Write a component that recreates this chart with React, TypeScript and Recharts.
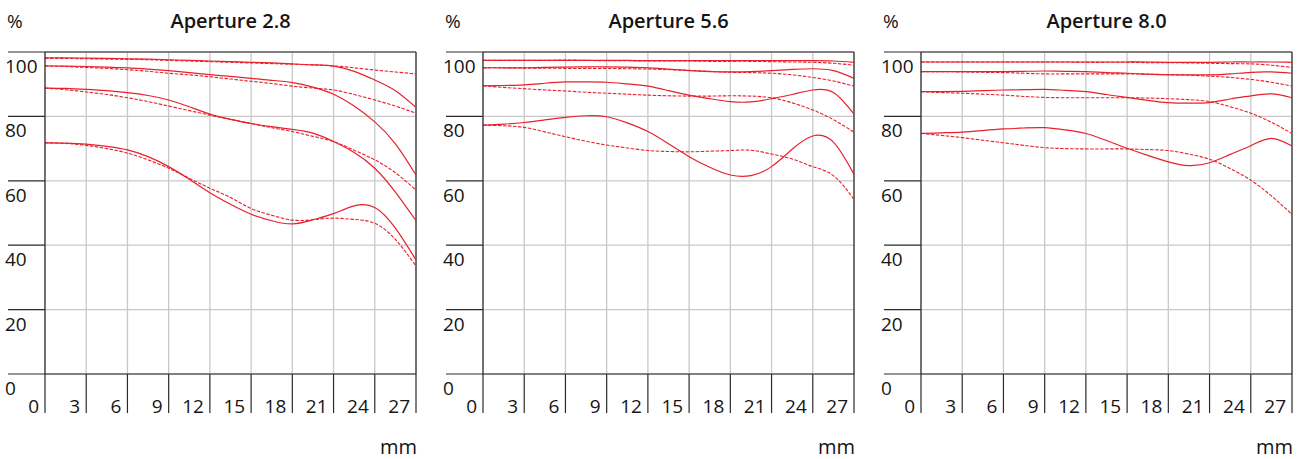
import React from 'react';
import { LineChart, Line, XAxis, YAxis, CartesianGrid, ReferenceLine } from 'recharts';

// image height in mm, sampled every 1.5 mm
const X_MM = [0, 1.5, 3, 4.5, 6, 7.5, 9, 10.5, 12, 13.5, 15, 16.5, 18, 19.5, 21, 22.5, 24, 25.5, 27];
const X_TICKS = [0, 3, 6, 9, 12, 15, 18, 21, 24, 27];
const Y_TICKS = [0, 20, 40, 60, 80, 100];

// Aperture 2.8 — solid = sagittal, dashed = tangential (5/10/20/40 lp/mm)
const f28Sag5 = [98.2, 98.2, 98.1, 98.0, 97.9, 97.8, 97.6, 97.4, 97.2, 97.0, 96.8, 96.6, 96.3, 96.0, 95.6, 94.0, 91.3, 88.0, 82.8];
const f28Tan5 = [98.0, 98.0, 97.9, 97.8, 97.7, 97.6, 97.4, 97.2, 97.0, 96.8, 96.6, 96.4, 96.2, 96.0, 95.7, 95.1, 94.4, 93.8, 93.2];
const f28Sag10 = [95.7, 95.6, 95.5, 95.3, 95.1, 94.7, 94.2, 93.6, 93.0, 92.4, 91.8, 91.2, 90.5, 89.1, 86.9, 83.2, 78.3, 71.5, 61.8];
const f28Tan10 = [95.7, 95.5, 95.2, 94.9, 94.5, 94.0, 93.4, 92.9, 92.3, 91.6, 90.9, 90.2, 89.4, 88.8, 88.2, 86.8, 85.1, 83.2, 81.0];
const f28Sag20 = [88.8, 88.7, 88.4, 88.0, 87.4, 86.5, 85.1, 83.0, 80.7, 79.1, 77.8, 76.8, 76.0, 74.8, 72.2, 68.8, 63.9, 56.5, 47.6];
const f28Tan20 = [88.8, 88.3, 87.6, 86.8, 85.8, 84.6, 83.2, 81.8, 80.4, 79.1, 77.8, 76.5, 75.3, 73.8, 72.2, 69.5, 66.5, 62.5, 57.1];
const f28Sag40 = [71.8, 71.7, 71.4, 70.7, 69.6, 67.5, 64.4, 60.5, 56.3, 52.7, 49.6, 47.6, 46.6, 47.9, 49.8, 52.2, 51.7, 45.3, 35.4];
const f28Tan40 = [71.8, 71.6, 71.0, 70.0, 68.6, 66.5, 63.9, 60.8, 57.7, 54.8, 51.4, 49.3, 47.8, 47.9, 48.4, 48.0, 46.8, 41.8, 33.5];

// Aperture 5.6
const f56Sag5 = [97.4, 97.4, 97.4, 97.4, 97.4, 97.4, 97.4, 97.4, 97.3, 97.3, 97.3, 97.3, 97.3, 97.3, 97.3, 97.3, 97.3, 97.2, 96.8];
const f56Tan5 = [97.4, 97.4, 97.4, 97.4, 97.5, 97.4, 97.3, 97.3, 97.2, 97.2, 97.2, 97.1, 97.1, 97.1, 97.0, 96.9, 96.8, 96.5, 95.9];
const f56Sag10 = [95.1, 95.1, 95.1, 95.2, 95.3, 95.4, 95.4, 95.3, 95.1, 94.7, 94.2, 93.9, 93.8, 93.9, 94.2, 94.6, 94.8, 94.2, 91.8];
const f56Tan10 = [95.1, 95.1, 95.0, 95.0, 94.9, 94.9, 94.9, 94.8, 94.7, 94.5, 94.3, 94.0, 93.7, 93.6, 93.4, 92.9, 92.1, 91.0, 89.4];
const f56Sag20 = [89.5, 89.6, 89.8, 90.3, 90.7, 90.7, 90.6, 90.1, 89.4, 88.0, 86.6, 85.5, 84.6, 84.5, 85.5, 86.8, 88.2, 87.4, 80.7];
const f56Tan20 = [89.5, 89.0, 88.6, 88.2, 87.9, 87.5, 87.2, 86.9, 86.6, 86.4, 86.3, 86.3, 86.4, 86.3, 85.8, 84.2, 82.0, 79.0, 75.1];
const f56Sag40 = [77.3, 77.6, 78.1, 78.9, 79.7, 80.2, 79.9, 78.0, 75.3, 71.5, 67.5, 64.2, 61.8, 61.6, 64.4, 69.8, 73.9, 72.0, 62.0];
const f56Tan40 = [77.3, 77.1, 76.6, 75.2, 73.7, 72.3, 71.1, 70.2, 69.4, 69.1, 69.0, 69.2, 69.4, 69.5, 68.3, 66.8, 64.4, 61.6, 54.2];

// Aperture 8.0
const f80Sag5 = [96.9, 96.9, 96.9, 96.9, 96.9, 96.9, 96.9, 96.9, 96.9, 96.9, 96.9, 96.9, 96.8, 96.8, 96.8, 96.9, 96.9, 96.9, 96.8];
const f80Tan5 = [96.9, 96.9, 96.9, 96.9, 96.9, 96.9, 96.9, 96.9, 96.8, 96.8, 96.8, 96.7, 96.7, 96.6, 96.5, 96.4, 96.3, 95.9, 95.2];
const f80Sag10 = [93.9, 93.9, 93.9, 93.9, 93.9, 94.0, 94.1, 94.0, 93.9, 93.6, 93.4, 93.1, 92.9, 92.9, 92.9, 93.2, 93.7, 93.8, 93.4];
const f80Tan10 = [93.9, 93.9, 93.8, 93.7, 93.6, 93.4, 93.2, 93.2, 93.2, 93.2, 93.2, 93.1, 93.0, 92.8, 92.5, 92.1, 91.5, 90.6, 89.4];
const f80Sag20 = [87.7, 87.7, 87.8, 88.0, 88.2, 88.3, 88.4, 88.1, 87.7, 86.8, 85.9, 85.0, 84.3, 84.1, 84.3, 85.4, 86.4, 87.0, 85.8];
const f80Tan20 = [87.7, 87.4, 87.2, 86.9, 86.6, 86.2, 85.9, 85.8, 85.8, 85.8, 85.8, 85.7, 85.5, 85.2, 84.6, 83.0, 81.0, 78.2, 74.7];
const f80Sag40 = [74.7, 74.9, 75.1, 75.6, 76.1, 76.4, 76.5, 75.8, 74.7, 72.5, 70.1, 67.9, 65.9, 64.7, 65.6, 68.2, 70.9, 73.2, 70.8];
const f80Tan40 = [74.7, 74.1, 73.4, 72.6, 71.8, 71.0, 70.3, 70.0, 69.9, 69.9, 69.9, 69.7, 69.4, 68.3, 66.7, 63.8, 60.2, 55.3, 49.6];

const RED = '#e8202b';
const DARK = '#2b2b2b';
const GRID = '#c8c8c8';
const FONT = '"Open Sans", "DejaVu Sans", sans-serif';

const buildRows = (sets: number[][]) =>
  X_MM.map((mm, i) => ({
    mm,
    s5: sets[0][i], t5: sets[1][i],
    s10: sets[2][i], t10: sets[3][i],
    s20: sets[4][i], t20: sets[5][i],
    s40: sets[6][i], t40: sets[7][i],
  }));

const PANELS = [
  { title: 'Aperture 2.8', left: 0, width: 438, rows: buildRows([f28Sag5, f28Tan5, f28Sag10, f28Tan10, f28Sag20, f28Tan20, f28Sag40, f28Tan40]) },
  { title: 'Aperture 5.6', left: 438, width: 438, rows: buildRows([f56Sag5, f56Tan5, f56Sag10, f56Tan10, f56Sag20, f56Tan20, f56Sag40, f56Tan40]) },
  { title: 'Aperture 8.0', left: 876, width: 430, rows: buildRows([f80Sag5, f80Tan5, f80Sag10, f80Tan10, f80Sag20, f80Tan20, f80Sag40, f80Tan40]) },
];

const XTick = (props: any) => {
  const { x, y, payload } = props;
  return (
    <text x={x - 6} y={y} textAnchor="end" fontSize={19} fontWeight={500} fill="#151515" fontFamily={FONT}>
      {payload.value}
    </text>
  );
};

const YTick = (props: any) => {
  const { x, y, payload } = props;
  return (
    <text x={x - 3} y={y + 21} textAnchor="start" fontSize={19} fontWeight={500} fill="#151515" fontFamily={FONT}>
      {payload.value}
    </text>
  );
};

const SERIES = ['5', '10', '20', '40'];

function Panel({ rows, width }: { rows: any[]; width: number }) {
  return (
    <LineChart width={width} height={459} data={rows} margin={{ top: 52, right: width - 416, bottom: 0, left: 8 }}>
      <CartesianGrid stroke={GRID} strokeWidth={1.3} />
      <XAxis
        dataKey="mm"
        type="number"
        domain={[0, 27]}
        ticks={X_TICKS}
        height={85}
        tickSize={39}
        tickMargin={0}
        axisLine={{ stroke: DARK, strokeWidth: 1.2 }}
        tickLine={{ stroke: DARK, strokeWidth: 1.2 }}
        tick={<XTick />}
        interval={0}
      />
      <YAxis
        type="number"
        domain={[0, 100]}
        ticks={Y_TICKS}
        width={37}
        tickSize={37}
        tickMargin={0}
        axisLine={{ stroke: DARK, strokeWidth: 1.2 }}
        tickLine={{ stroke: DARK, strokeWidth: 1.2 }}
        tick={<YTick />}
        interval={0}
      />
      <ReferenceLine y={100} stroke={DARK} strokeWidth={1.2} />
      <ReferenceLine x={27} stroke={DARK} strokeWidth={1.2} />
      {SERIES.map((f) => (
        <Line
          key={'t' + f}
          dataKey={'t' + f}
          type="natural"
          stroke={RED}
          strokeWidth={1.1}
          strokeDasharray="3.5 1.5"
          dot={false}
          activeDot={false}
          isAnimationActive={false}
        />
      ))}
      {SERIES.map((f) => (
        <Line
          key={'s' + f}
          dataKey={'s' + f}
          type="natural"
          stroke={RED}
          strokeWidth={1.2}
          dot={false}
          activeDot={false}
          isAnimationActive={false}
        />
      ))}
    </LineChart>
  );
}

export default function App() {
  return (
    <div style={{ position: 'absolute', left: 0, top: 0, width: 1306, height: 459, overflow: 'hidden', background: '#fff' }}>
      {PANELS.map((p) => (
        <div key={p.title} style={{ position: 'absolute', left: p.left, top: 0 }}>
          <Panel rows={p.rows} width={p.width} />
        </div>
      ))}
      <svg width={1306} height={459} style={{ position: 'absolute', left: 0, top: 0, pointerEvents: 'none' }}>
        {PANELS.map((p) => (
          <g key={p.title} fontFamily={FONT} fill="#151515">
            <text x={p.left + 7} y={28} fontSize={19} fontWeight={500}>%</text>
            <text x={p.left + 230.5} y={28} fontSize={20} fontWeight={600} textAnchor="middle">{p.title}</text>
            <text x={p.left + 417} y={454} fontSize={20} fontWeight={500} textAnchor="end">mm</text>
          </g>
        ))}
      </svg>
    </div>
  );
}
